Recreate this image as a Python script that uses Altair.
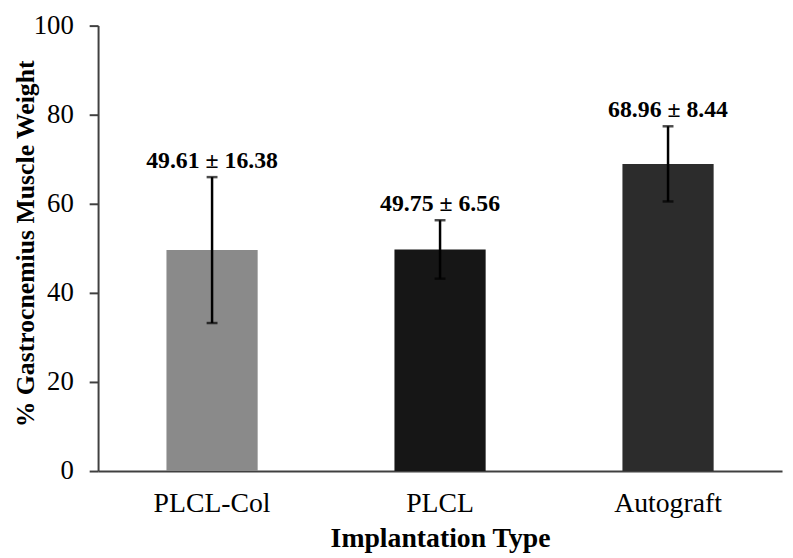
import altair as alt
import pandas as pd

categories = ["PLCL-Col", "PLCL", "Autograft"]
means = [49.61, 49.75, 68.96]
sds = [16.38, 6.56, 8.44]
bar_colors = ["#8a8a8a", "#161616", "#2c2c2c"]

df = pd.DataFrame({"cat": categories, "mean": means, "sd": sds})
df["lo"] = df["mean"] - df["sd"]
df["hi"] = df["mean"] + df["sd"]
df["label"] = [f"{m:.2f} \u00b1 {s:.2f}" for m, s in zip(means, sds)]

FONT = "Liberation Serif"

x = alt.X("cat:N", sort=categories,
          scale=alt.Scale(paddingInner=0.6, paddingOuter=0.3),
          axis=alt.Axis(title="Implantation Type", labelAngle=0, ticks=False,
                        labelPadding=19, titlePadding=7, labelFontSize=28,
                        titleFontSize=28, labelFont=FONT, titleFont=FONT,
                        labelFontWeight="normal", titleFontWeight="bold",
                        labelColor="black", titleColor="black",
                        domainColor="#404040", domainWidth=2))
y = alt.Y("mean:Q", scale=alt.Scale(domain=[0, 100]),
          axis=alt.Axis(title="% Gastrocnemius Muscle Weight", values=[0, 20, 40, 60, 80, 100],
                        grid=False, tickSize=9, tickWidth=2, tickColor="#404040",
                        domainColor="#404040", domainWidth=2,
                        labelPadding=16, labelFontSize=27, titleFontSize=26,
                        labelFont=FONT, titleFont=FONT, labelColor="black", titleColor="black",
                        titleFontWeight="bold", titleX=-65, titleY=220,
                        titleBaseline="alphabetic", titleAngle=270))

base = alt.Chart(df)

bars = base.mark_bar().encode(
    x=x, y=y,
    color=alt.Color("cat:N", sort=categories,
                    scale=alt.Scale(domain=categories, range=bar_colors), legend=None),
)
rules = base.mark_rule(color="black", strokeWidth=2.5).encode(
    x=alt.X("cat:N", sort=categories), y="lo:Q", y2="hi:Q")
caps_hi = base.mark_tick(color="black", thickness=2.5, size=11).encode(
    x=alt.X("cat:N", sort=categories), y="hi:Q")
caps_lo = base.mark_tick(color="black", thickness=2.5, size=11).encode(
    x=alt.X("cat:N", sort=categories), y="lo:Q")
labels = base.mark_text(font=FONT, fontSize=24, fontWeight="bold", color="black",
                        baseline="alphabetic", dy=-9).encode(
    x=alt.X("cat:N", sort=categories), y="hi:Q", text="label:N")

chart = alt.layer(bars, rules, caps_hi, caps_lo, labels).properties(
    width=691, height=450,
    autosize=alt.AutoSizeParams(type="none"),
    padding={"left": 91, "top": 15, "right": 3, "bottom": 80},
    background="white",
).configure_view(stroke=None)

chart.save("out.html", embed_options={"renderer": "svg", "actions": False})
